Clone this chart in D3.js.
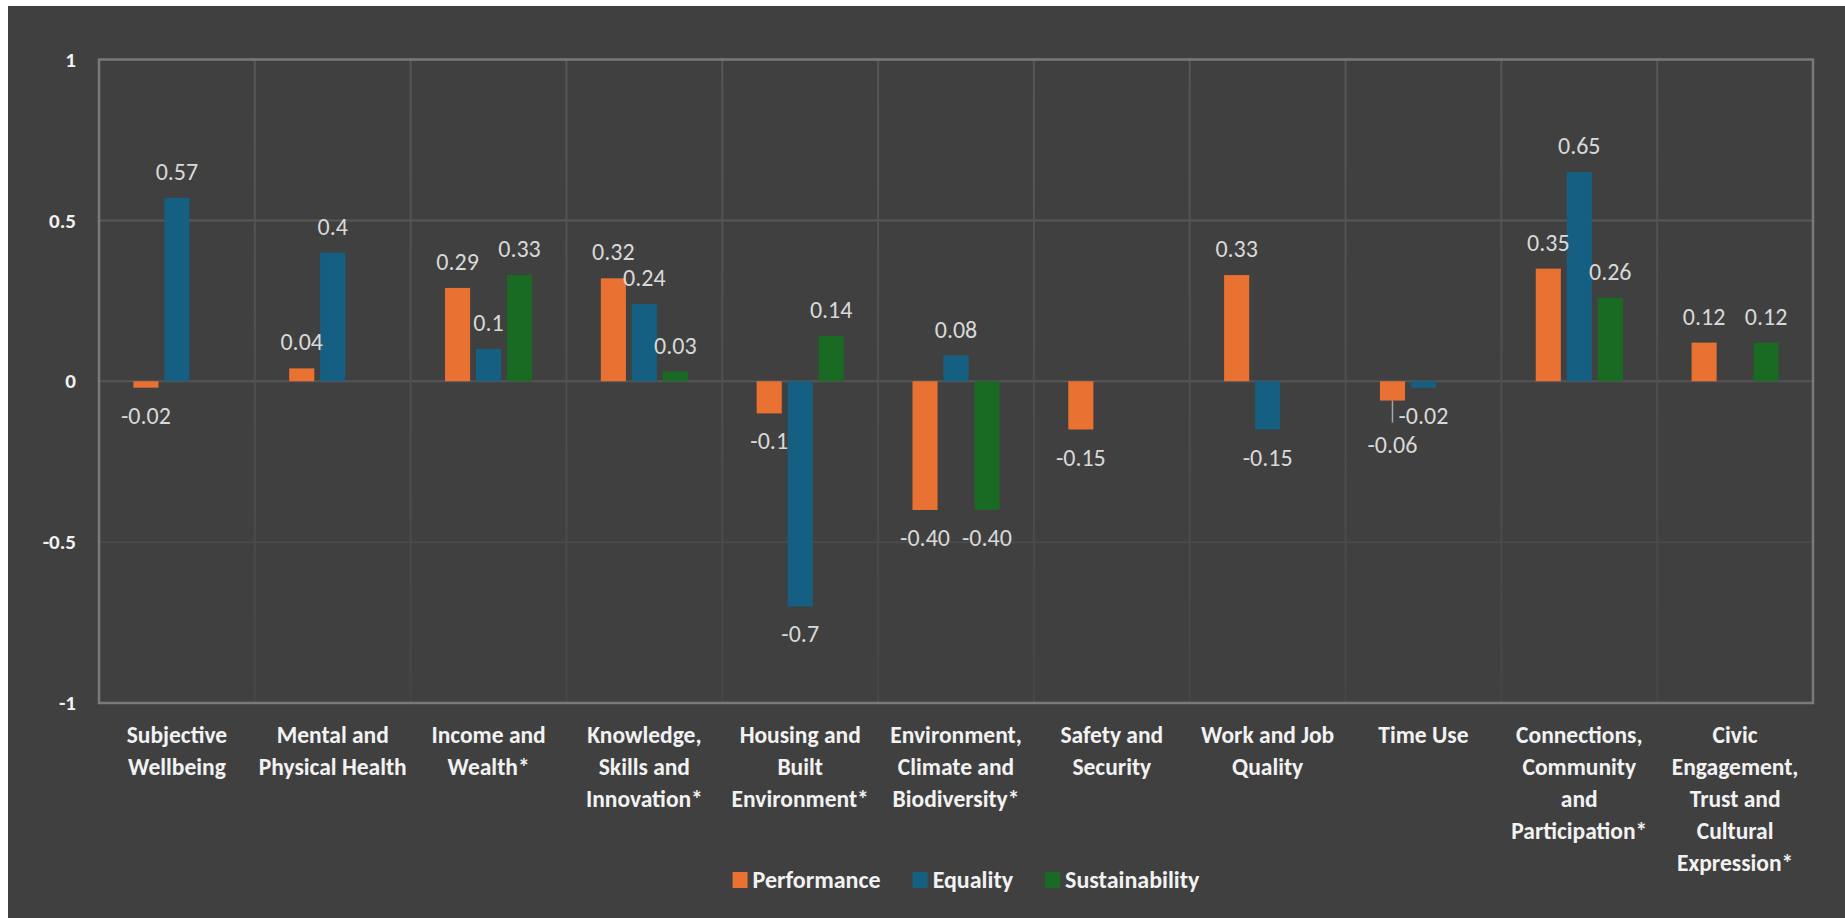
<!DOCTYPE html>
<html>
<head>
<meta charset="utf-8">
<script src="https://cdn.jsdelivr.net/npm/d3@7"></script>
<style>
  body { margin: 0; background: #ffffff; }
  svg { display: block; }
  text { font-family: Carlito, Calibri, Lato, "Noto Sans", sans-serif; }
</style>
</head>
<body>
<svg id="chart" width="1845" height="918"></svg>
<script>
// Wellbeing domains, split into the lines shown under the axis
const categoryLines = [
  ["Subjective", "Wellbeing"],
  ["Mental and", "Physical Health"],
  ["Income and", "Wealth*"],
  ["Knowledge,", "Skills and", "Innovation*"],
  ["Housing and", "Built", "Environment*"],
  ["Environment,", "Climate and", "Biodiversity*"],
  ["Safety and", "Security"],
  ["Work and Job", "Quality"],
  ["Time Use"],
  ["Connections,", "Community", "and", "Participation*"],
  ["Civic", "Engagement,", "Trust and", "Cultural", "Expression*"]
];
const categories = categoryLines.map(l => l.join(" "));

const seriesNames = ["Performance", "Equality", "Sustainability"];
const seriesColors = ["#E97132", "#156082", "#196B24"];

const performance    = [-0.02, 0.04, 0.29, 0.32, -0.10, -0.40, -0.15, 0.33, -0.06, 0.35, 0.12];
const equality       = [0.57, 0.40, 0.10, 0.24, -0.70, 0.08, null, -0.15, -0.02, 0.65, null];
const sustainability = [null, null, 0.33, 0.03, 0.14, -0.40, null, null, null, 0.26, 0.12];

const performanceLabels    = ["-0.02", "0.04", "0.29", "0.32", "-0.1", "-0.40", "-0.15", "0.33", "-0.06", "0.35", "0.12"];
const equalityLabels       = ["0.57", "0.4", "0.1", "0.24", "-0.7", "0.08", null, "-0.15", "-0.02", "0.65", null];
const sustainabilityLabels = [null, null, "0.33", "0.03", "0.14", "-0.40", null, null, null, "0.26", "0.12"];

const yTicks = [1, 0.5, 0, -0.5, -1];
const yTickLabels = ["1", "0.5", "0", "-0.5", "-1"];

// label nudged below its bar with a leader line (Time Use / Performance)
const labelNudges = [{ category: "Time Use", series: "Performance", dy: 16 }];

const seriesValues = [performance, equality, sustainability];
const seriesLabels = [performanceLabels, equalityLabels, sustainabilityLabels];

const svg = d3.select("#chart");

// chart area background
svg.append("rect")
  .attr("x", 8).attr("y", 6)
  .attr("width", 1845 - 8).attr("height", 918 - 6)
  .attr("fill", "#404040");

const plot = { left: 99, right: 1813, top: 59.5, bottom: 703 };

const x = d3.scaleBand().domain(categories).range([plot.left, plot.right]).padding(0);
const xs = d3.scaleBand().domain(seriesNames).range([0, x.bandwidth()])
  .paddingInner(0.19).paddingOuter(1.11);
const y = d3.scaleLinear().domain([-1, 1]).range([plot.bottom, plot.top]);

// gradient for vertical gridlines (they fade toward the bottom)
const defs = svg.append("defs");
const grad = defs.append("linearGradient")
  .attr("id", "vgrid").attr("gradientUnits", "userSpaceOnUse")
  .attr("x1", 0).attr("x2", 0).attr("y1", plot.top).attr("y2", plot.bottom);
grad.append("stop").attr("offset", 0).attr("stop-color", "#575757");
grad.append("stop").attr("offset", 1).attr("stop-color", "#464646");

const grid = svg.append("g");
const hGridColor = { "0.5": "#585858", "0": "#555555", "-0.5": "#4a4a4a" };
grid.selectAll("line.h")
  .data(yTicks.filter(t => t > -1 && t < 1))
  .join("line")
  .attr("x1", plot.left).attr("x2", plot.right)
  .attr("y1", d => y(d)).attr("y2", d => y(d))
  .attr("stroke", d => hGridColor[String(d)])
  .attr("stroke-width", 2);
grid.selectAll("line.v")
  .data(categories.slice(1))
  .join("line")
  .attr("x1", d => x(d)).attr("x2", d => x(d))
  .attr("y1", plot.top).attr("y2", plot.bottom)
  .attr("stroke", "url(#vgrid)")
  .attr("stroke-width", 2);

// plot frame
svg.append("rect")
  .attr("x", plot.left).attr("y", plot.top)
  .attr("width", plot.right - plot.left).attr("height", plot.bottom - plot.top)
  .attr("fill", "none").attr("stroke", "#7a7a7a").attr("stroke-width", 2.5);

// flatten bar data
const bars = [];
seriesNames.forEach((s, si) => {
  categories.forEach((c, ci) => {
    const v = seriesValues[si][ci];
    if (v === null) return;
    bars.push({ series: s, si, category: c, value: v, label: seriesLabels[si][ci] });
  });
});

svg.append("g").selectAll("rect")
  .data(bars)
  .join("rect")
  .attr("x", d => x(d.category) + xs(d.series))
  .attr("width", xs.bandwidth())
  .attr("y", d => y(Math.max(0, d.value)))
  .attr("height", d => Math.abs(y(d.value) - y(0)))
  .attr("fill", d => seriesColors[d.si]);

// data labels
const labelG = svg.append("g");
bars.forEach(d => {
  const cx = x(d.category) + xs(d.series) + xs.bandwidth() / 2;
  const nudge = labelNudges.find(n => n.category === d.category && n.series === d.series);
  const extra = nudge ? nudge.dy : 0;
  const yb = d.value >= 0 ? y(d.value) - 18 : y(d.value) + 36 + extra;
  labelG.append("text")
    .attr("x", cx).attr("y", yb)
    .attr("text-anchor", "middle")
    .attr("font-size", 24)
    .attr("fill", "#d9d9d9")
    .text(d.label);
  if (nudge) {
    labelG.append("line")
      .attr("x1", cx).attr("x2", cx)
      .attr("y1", y(d.value)).attr("y2", y(d.value) + 22)
      .attr("stroke", "#a6a6a6").attr("stroke-width", 1.5);
  }
});

// y axis
const yAxis = svg.append("g")
  .attr("transform", `translate(${plot.left},0)`)
  .call(d3.axisLeft(y).tickValues(yTicks)
    .tickFormat((d, i) => yTickLabels[i]).tickSize(0).tickPadding(23));
yAxis.select(".domain").remove();
yAxis.selectAll("text")
  .attr("font-family", null)
  .attr("font-size", 21).attr("font-weight", "bold").attr("fill", "#f2f2f2");

// x axis with multi-line category labels
const xAxis = svg.append("g")
  .attr("transform", `translate(0,${plot.bottom})`)
  .call(d3.axisBottom(x).tickSize(0).tickPadding(0));
xAxis.select(".domain").remove();
xAxis.selectAll(".tick text").each(function (d, i) {
  const t = d3.select(this);
  t.text(null)
    .attr("y", 0).attr("dy", null)
    .attr("font-family", null)
    .attr("font-size", 23.5).attr("font-weight", "bold").attr("fill", "#f2f2f2");
  categoryLines[i].forEach((line, li) => {
    t.append("tspan").attr("x", 0).attr("y", 40 + li * 32).text(line);
  });
});

// legend, centred under the plot
const legend = svg.append("g");
const items = seriesNames.map((s, i) => {
  const g = legend.append("g");
  g.append("rect")
    .attr("x", 0).attr("y", 872).attr("width", 15).attr("height", 16)
    .attr("fill", seriesColors[i]);
  const t = g.append("text")
    .attr("x", 20).attr("y", 888)
    .attr("font-size", 24).attr("font-weight", "bold").attr("fill", "#f2f2f2")
    .text(s);
  return { g, w: 20 + t.node().getComputedTextLength() };
});
const legendGap = 32;
const totalW = d3.sum(items, d => d.w) + legendGap * (items.length - 1);
let lx = 966 - totalW / 2;
items.forEach(it => {
  it.g.attr("transform", `translate(${lx},0)`);
  lx += it.w + legendGap;
});
</script>
</body>
</html>
